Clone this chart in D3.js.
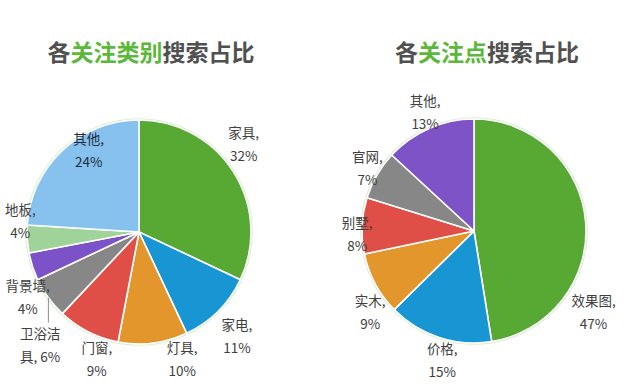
<!DOCTYPE html>
<html>
<head>
<meta charset="utf-8">
<script src="https://cdn.jsdelivr.net/npm/d3@7"></script>
<style>
  body { margin: 0; background: #fff; }
  text { font-family: "Noto Sans CJK SC", "Noto Sans", sans-serif; }
</style>
</head>
<body>
<div class="chart"></div>
<script>
// data
var catNames = ["家具", "家电", "灯具", "门窗", "卫浴洁具", "背景墙", "地板", "其他"];
var catValues = [32, 11, 10, 9, 6, 4, 4, 24];
var catColors = ["#58a834", "#1896d3", "#e3962b", "#df4f48", "#878787", "#7b52c7", "#a0d39a", "#87c1ee"];

var pointNames = ["效果图", "价格", "实木", "别墅", "官网", "其他"];
var pointValues = [47, 15, 9, 8, 7, 13];
var pointColors = ["#58a834", "#1896d3", "#e3962b", "#df4f48", "#878787", "#7e53c8"];

// label nudges (px) from the centroid at radius r + 25 (inside label: from 0.63r)
var catNudge = [[-11, -14], [1, 8], [26, -8], [20, 6], [12, 33], [19, 24], [18, -19], [-2, -30]];
var pointNudge = [[-17, 93], [11, 0], [17, 17], [20, 11], [12, 6], [6, 7]];

var width = 640, height = 390;

var svg = d3.select(".chart").append("svg")
    .attr("width", width)
    .attr("height", height);

//titles
function title(cx, parts) {
  var t = svg.append("text")
      .attr("x", cx)
      .attr("y", 61)
      .attr("text-anchor", "middle")
      .style("font-size", "23px")
      .style("font-weight", "bold");
  parts.forEach(function(p) {
    t.append("tspan").attr("fill", p[1]).text(p[0]);
  });
}
title(151, [["各", "#505050"], ["关注类别", "#5cb83a"], ["搜索占比", "#505050"]]);
title(487, [["各", "#505050"], ["关注点", "#5cb83a"], ["搜索占比", "#505050"]]);

function drawPie(cx, cy, r, names, values, colors, nudge, insideIdx) {
  var g = svg.append("g").attr("transform", "translate(" + cx + "," + cy + ")");

  var pie = d3.pie().sort(null).value(function(d) { return d; });
  var arcs = pie(values);
  var arc = d3.arc().innerRadius(0).outerRadius(r);

  // pale outer rim
  g.append("circle")
      .attr("r", r + 0.8)
      .attr("fill", "none")
      .attr("stroke", "#dcecd4")
      .attr("stroke-width", 2);

  g.selectAll(".slice")
    .data(arcs)
    .enter().append("path")
      .attr("class", "slice")
      .attr("d", arc)
      .attr("fill", function(d, i) { return colors[i]; })
      .attr("stroke", "#fff")
      .attr("stroke-width", 1.6)
      .attr("stroke-linejoin", "round");

  var labelArc = d3.arc().innerRadius(r + 25).outerRadius(r + 25);
  var insideArc = d3.arc().innerRadius(r * 0.63).outerRadius(r * 0.63);

  arcs.forEach(function(d, i) {
    var pos = (i === insideIdx ? insideArc : labelArc).centroid(d);
    pos = [pos[0] + nudge[i][0], pos[1] + nudge[i][1]];

    var name = names[i], pct = values[i] + "%";
    var line1, line2;
    if (name.length > 3) {
      line1 = name.slice(0, 3);
      line2 = name.slice(3) + ", " + pct;
    } else {
      line1 = name + ",";
      line2 = pct;
    }
    var t = g.append("text")
        .attr("text-anchor", "middle")
        .attr("fill", i === insideIdx ? "#1f2c3c" : "#404040")
        .style("font-size", "13.5px");
    t.append("tspan").attr("x", pos[0]).attr("y", pos[1] - 7).text(line1);
    t.append("tspan").attr("x", pos[0]).attr("y", pos[1] + 16).text(line2);

    // leader line for wrapped label
    if (name.length > 3) {
      var mid = (d.startAngle + d.endAngle) / 2;
      var px = Math.sin(mid) * r, py = -Math.cos(mid) * r;
      g.append("line")
          .attr("x1", px).attr("y1", py)
          .attr("x2", px).attr("y2", pos[1] - 23)
          .attr("stroke", "#8a8a8a")
          .attr("stroke-width", 1);
    }
  });
}

drawPie(139, 232, 112, catNames, catValues, catColors, catNudge, 7);
drawPie(474, 231, 112, pointNames, pointValues, pointColors, pointNudge, -1);
</script>
</body>
</html>
